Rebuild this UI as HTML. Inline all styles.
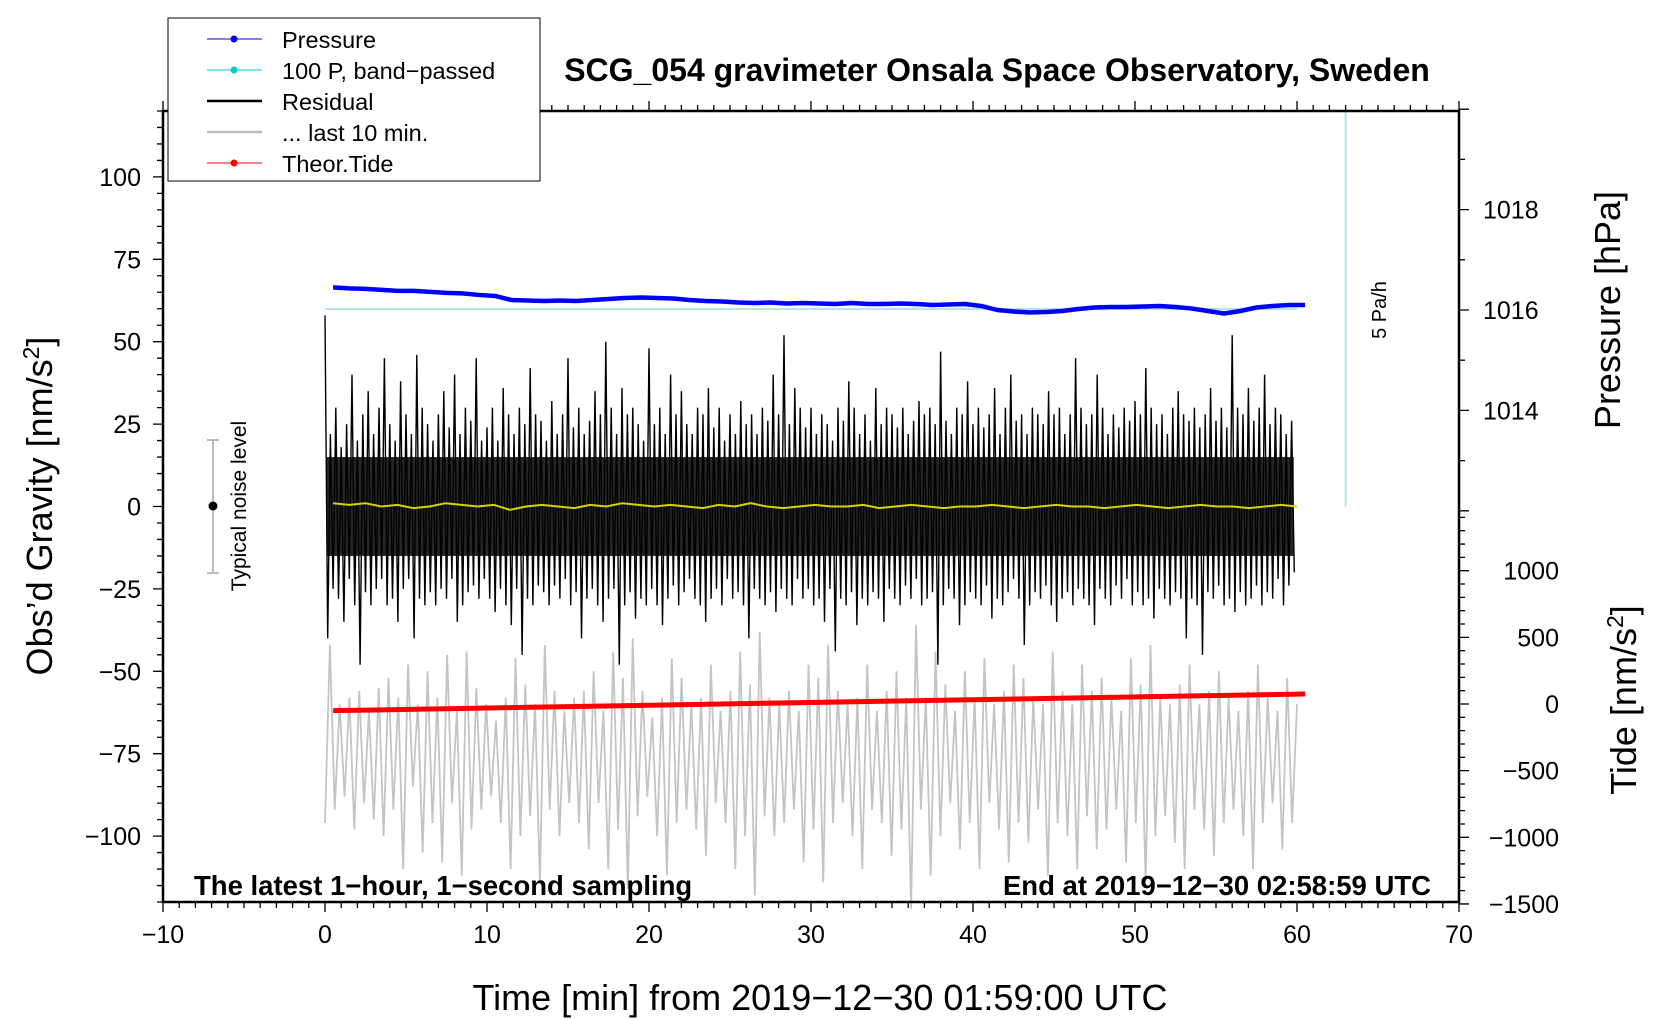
<!DOCTYPE html>
<html><head><meta charset="utf-8"><style>
html,body{margin:0;padding:0;background:#fff;}
svg{display:block;font-family:"Liberation Sans",sans-serif;}
</style></head><body>
<svg id="chart" width="1660" height="1020" viewBox="0 0 1660 1020" xmlns="http://www.w3.org/2000/svg">
<g id="marks"></g>
<g id="axes"></g>
<text x="997" y="81" text-anchor="middle" font-size="32" font-weight="bold">SCG_054 gravimeter Onsala Space Observatory, Sweden</text>
<text x="194" y="895" font-size="27.5" font-weight="bold">The latest 1−hour, 1−second sampling</text>
<text x="1431" y="895" text-anchor="end" font-size="27.5" font-weight="bold">End at 2019−12−30 02:58:59 UTC</text>
<text x="820" y="1010" text-anchor="middle" font-size="36">Time [min] from 2019−12−30 01:59:00 UTC</text>
<text transform="translate(52 506) rotate(-90)" text-anchor="middle" font-size="36">Obs’d Gravity [nm/s<tspan dy="-13" font-size="23">2</tspan><tspan dy="13">]</tspan></text>
<text transform="translate(1620 310) rotate(-90)" text-anchor="middle" font-size="36">Pressure [hPa]</text>
<text transform="translate(1636 700) rotate(-90)" text-anchor="middle" font-size="36">Tide [nm/s<tspan dy="-13" font-size="23">2</tspan><tspan dy="13">]</tspan></text>
<text transform="translate(1386 310) rotate(-90)" text-anchor="middle" font-size="20">5 Pa/h</text>
<g>
<line x1="213" y1="440" x2="213" y2="573" stroke="#bbb" stroke-width="2"/>
<line x1="207" y1="440" x2="219" y2="440" stroke="#bbb" stroke-width="2"/>
<line x1="207" y1="573" x2="219" y2="573" stroke="#bbb" stroke-width="2"/>
<circle cx="213" cy="506" r="4.5" fill="#000"/>
<text transform="translate(246 506) rotate(-90)" text-anchor="middle" font-size="21">Typical noise level</text>
</g>
<g id="legend">
<rect x="168" y="18" width="372" height="163" fill="#fff" stroke="#000" stroke-width="1"/>
<line x1="207" y1="39" x2="262" y2="39" stroke="#00f" stroke-width="1"/><circle cx="234" cy="39" r="3.5" fill="#00f"/>
<text x="282" y="48" font-size="23.5">Pressure</text>
<line x1="207" y1="70" x2="262" y2="70" stroke="#0cc" stroke-width="1"/><circle cx="234" cy="70" r="3.5" fill="#0cc"/>
<text x="282" y="79" font-size="23.5">100 P, band−passed</text>
<line x1="207" y1="101" x2="262" y2="101" stroke="#000" stroke-width="2.5"/>
<text x="282" y="110" font-size="23.5">Residual</text>
<line x1="207" y1="132" x2="262" y2="132" stroke="#bbb" stroke-width="2.5"/>
<text x="282" y="141" font-size="23.5">... last 10 min.</text>
<line x1="207" y1="163" x2="262" y2="163" stroke="#f00" stroke-width="1"/><circle cx="234" cy="163" r="3.5" fill="#f00"/>
<text x="282" y="172" font-size="23.5">Theor.Tide</text>
</g>
</svg>
<script>
const resHi=[58,22,30,18,25,40,20,28,35,22,30,45,25,20,38,28,22,46,30,25,20,28,35,24,40,22,30,26,45,20,24,30,20,36,28,22,30,25,42,28,26,20,32,22,28,45,24,30,22,26,35,28,50,30,22,36,28,30,25,20,48,25,30,22,40,28,35,25,22,30,28,36,24,30,20,28,22,32,25,28,22,30,26,40,28,52,25,36,30,24,30,22,28,25,20,30,26,38,30,22,28,20,36,25,30,28,24,30,22,26,32,28,30,25,47,26,22,30,28,38,25,30,24,28,36,22,30,40,26,28,22,30,28,25,35,28,30,22,28,45,30,25,28,40,30,22,28,24,30,26,32,28,42,30,25,28,22,30,35,28,26,30,24,28,36,26,30,24,52,30,28,36,26,30,40,25,30,28,22,26];
const resLo=[-40,-25,-28,-35,-22,-30,-48,-26,-30,-25,-22,-30,-28,-35,-25,-22,-40,-28,-30,-26,-30,-25,-28,-22,-35,-30,-26,-24,-28,-22,-28,-32,-25,-30,-36,-25,-45,-28,-30,-24,-26,-30,-24,-28,-22,-30,-26,-40,-28,-25,-30,-35,-28,-25,-48,-30,-26,-34,-28,-30,-25,-30,-36,-28,-24,-30,-26,-22,-28,-30,-35,-28,-25,-30,-22,-28,-26,-30,-40,-25,-28,-30,-26,-32,-25,-28,-30,-22,-28,-25,-30,-28,-35,-25,-44,-28,-30,-26,-36,-28,-30,-26,-28,-35,-25,-28,-30,-24,-28,-22,-30,-28,-26,-48,-30,-25,-28,-36,-30,-26,-28,-30,-24,-34,-28,-30,-26,-22,-28,-42,-30,-26,-28,-24,-30,-35,-28,-26,-30,-25,-28,-30,-36,-25,-28,-30,-24,-28,-22,-30,-26,-30,-28,-34,-25,-28,-30,-26,-28,-40,-28,-30,-45,-26,-28,-24,-30,-28,-32,-26,-30,-28,-24,-30,-26,-28,-22,-30,-24,-20];
const greyVals=[-96,-42,-92,-60,-88,-58,-98,-56,-90,-62,-95,-55,-100,-52,-92,-58,-110,-48,-85,-60,-105,-50,-96,-58,-108,-45,-90,-62,-112,-44,-98,-55,-92,-60,-88,-65,-96,-58,-110,-46,-100,-54,-94,-60,-114,-42,-92,-56,-100,-62,-90,-58,-96,-56,-104,-50,-90,-62,-110,-44,-98,-52,-116,-40,-94,-56,-88,-64,-100,-58,-112,-46,-96,-52,-92,-60,-98,-58,-106,-48,-90,-62,-96,-56,-110,-44,-100,-54,-118,-38,-94,-58,-100,-60,-96,-56,-92,-62,-108,-48,-98,-52,-114,-42,-96,-56,-90,-60,-100,-58,-110,-48,-92,-62,-96,-56,-106,-50,-98,-58,-122,-36,-92,-58,-112,-44,-100,-54,-90,-62,-104,-50,-96,-58,-110,-46,-90,-60,-98,-56,-108,-48,-96,-52,-102,-58,-92,-60,-112,-44,-96,-56,-100,-60,-110,-48,-94,-56,-104,-52,-98,-58,-92,-62,-108,-46,-96,-54,-114,-42,-100,-58,-94,-60,-102,-54,-110,-48,-92,-60,-98,-56,-106,-50,-96,-58,-92,-62,-100,-56,-110,-48,-96,-58,-90,-62,-104,-52,-96,-60];
const yellowVals=[1,0.5,1,0,0.5,-0.5,0,1,0.5,0,0.5,-1,0,0.5,0,-0.5,0.5,0,1,0.5,0,0.5,0,-0.5,0.5,0,1,0,-0.5,0,0.5,0,0,0.5,-0.5,0,0.5,0,-0.5,0,0,0.5,0,-0.5,0,0.5,0,0,-0.5,0,0.5,0,-0.5,0,0.5,0,0,-0.5,0,0.5,0];
const pressureVals=[1016.45,1016.43,1016.42,1016.4,1016.38,1016.38,1016.36,1016.34,1016.33,1016.3,1016.28,1016.2,1016.19,1016.18,1016.19,1016.18,1016.2,1016.22,1016.24,1016.25,1016.24,1016.23,1016.2,1016.18,1016.17,1016.15,1016.14,1016.15,1016.13,1016.14,1016.13,1016.12,1016.14,1016.12,1016.12,1016.13,1016.12,1016.1,1016.11,1016.12,1016.08,1016.0,1015.97,1015.95,1015.96,1015.98,1016.02,1016.05,1016.06,1016.06,1016.07,1016.08,1016.06,1016.03,1015.98,1015.93,1015.98,1016.05,1016.08,1016.1,1016.1];
const bandVals=[1016.02,1016.02];
const tideTimes=[0.5,60.5];
const tideVals=[-50,75];
const xTicks=[-10,0,10,20,30,40,50,60,70];
const yTicks=[100,75,50,25,0,-25,-50,-75,-100];
const pTicks=[1018,1016,1014];
const tTicks=[1000,500,0,-500,-1000,-1500];

const NS="http://www.w3.org/2000/svg";
const X=t=>163+(t+10)*16.2;
const YL=v=>506.5-v*3.296;
const YP=p=>310-(p-1016)*50.2;
const YT=g=>704-g*0.1333;
const marks=document.getElementById('marks'), axes=document.getElementById('axes');
function mk(tag,attrs,parent){const e=document.createElementNS(NS,tag);for(const k in attrs)e.setAttribute(k,attrs[k]);parent.appendChild(e);return e;}

const cy=mk('polyline',{points:bandVals.map((v,i)=>X(i*60)+','+YP(v)).join(' '),fill:'none',stroke:'#b5e6e6','stroke-width':2},marks);


const cv=mk('line',{x1:X(63),x2:X(63),y1:111,y2:YL(0),stroke:'#b5e6e6','stroke-width':2},marks);


const gp=greyVals.map((v,i)=>X(i*60/(greyVals.length-1))+','+YL(v)).join(' ');
const gl=mk('polyline',{points:gp,fill:'none',stroke:'#c4c4c4','stroke-width':1.8},marks);


const rb=mk('rect',{x:X(0.1),y:YL(15),width:X(59.8)-X(0.1),height:YL(-15)-YL(15),fill:'#000','fill-opacity':0.85},marks);


let rp=[];const n=resHi.length;
for(let i=0;i<n;i++){const t0=i*60/n;rp.push(X(t0)+','+YL(resHi[i]));rp.push(X(t0+30/n)+','+YL(resLo[i]));}
const rl=mk('polyline',{points:rp.join(' '),fill:'none',stroke:'#000','stroke-width':1.4},marks);


const yl=mk('polyline',{points:yellowVals.map((v,i)=>X(0.5+i*(59.5/(yellowVals.length-1)))+','+YL(v)).join(' '),fill:'none',stroke:'#d4d400','stroke-width':2},marks);


const tl=mk('polyline',{points:tideVals.map((v,i)=>X(tideTimes[i])+','+YT(v)).join(' '),fill:'none',stroke:'#f00','stroke-width':5},marks);


const pl=mk('polyline',{points:pressureVals.map((v,i)=>X(0.5+i*(60/(pressureVals.length-1)))+','+YP(v)).join(' '),fill:'none',stroke:'#00f','stroke-width':4.5,'stroke-linejoin':'round'},marks);



const fr=mk('rect',{x:163,y:111,width:1296,height:791,fill:'none',stroke:'#000','stroke-width':2.5},axes);


let tk='';
for(let t=-10;t<=70;t++){const x=X(t);const L=(t%10===0)?10:6;tk+=`M${x},902v${L}M${x},111v-${L}`;}
for(let v=-120;v<=120;v+=5){const y=YL(v);tk+=`M163,${y}h-${v%25===0?10:6}`;}
for(let p=1012;p<=1020;p++){const y=YP(p);tk+=`M1459,${y}h${p%2===0?10:6}`;}
for(let g=-1500;g<=1400;g+=100){const y=YT(g);tk+=`M1459,${y}h${g%500===0?10:6}`;}
const tp=mk('path',{d:tk,stroke:'#000','stroke-width':1.3,fill:'none'},axes);


xTicks.forEach(t=>{const e=mk('text',{x:X(t),y:943,'text-anchor':'middle','font-size':25},axes);e.textContent=String(t).replace('-','−');

});
yTicks.forEach(v=>{const e=mk('text',{x:141,y:YL(v)+9,'text-anchor':'end','font-size':25},axes);e.textContent=String(v).replace('-','−');

});
pTicks.forEach(p=>{const e=mk('text',{x:1483,y:YP(p)+9,'font-size':25},axes);e.textContent=String(p);

});
tTicks.forEach(g=>{const e=mk('text',{x:1559,y:YT(g)+9,'text-anchor':'end','font-size':25},axes);e.textContent=String(g).replace('-','−');

});
const svg=document.getElementById('chart');svg.appendChild(document.getElementById('legend'));
</script>
</body></html>
